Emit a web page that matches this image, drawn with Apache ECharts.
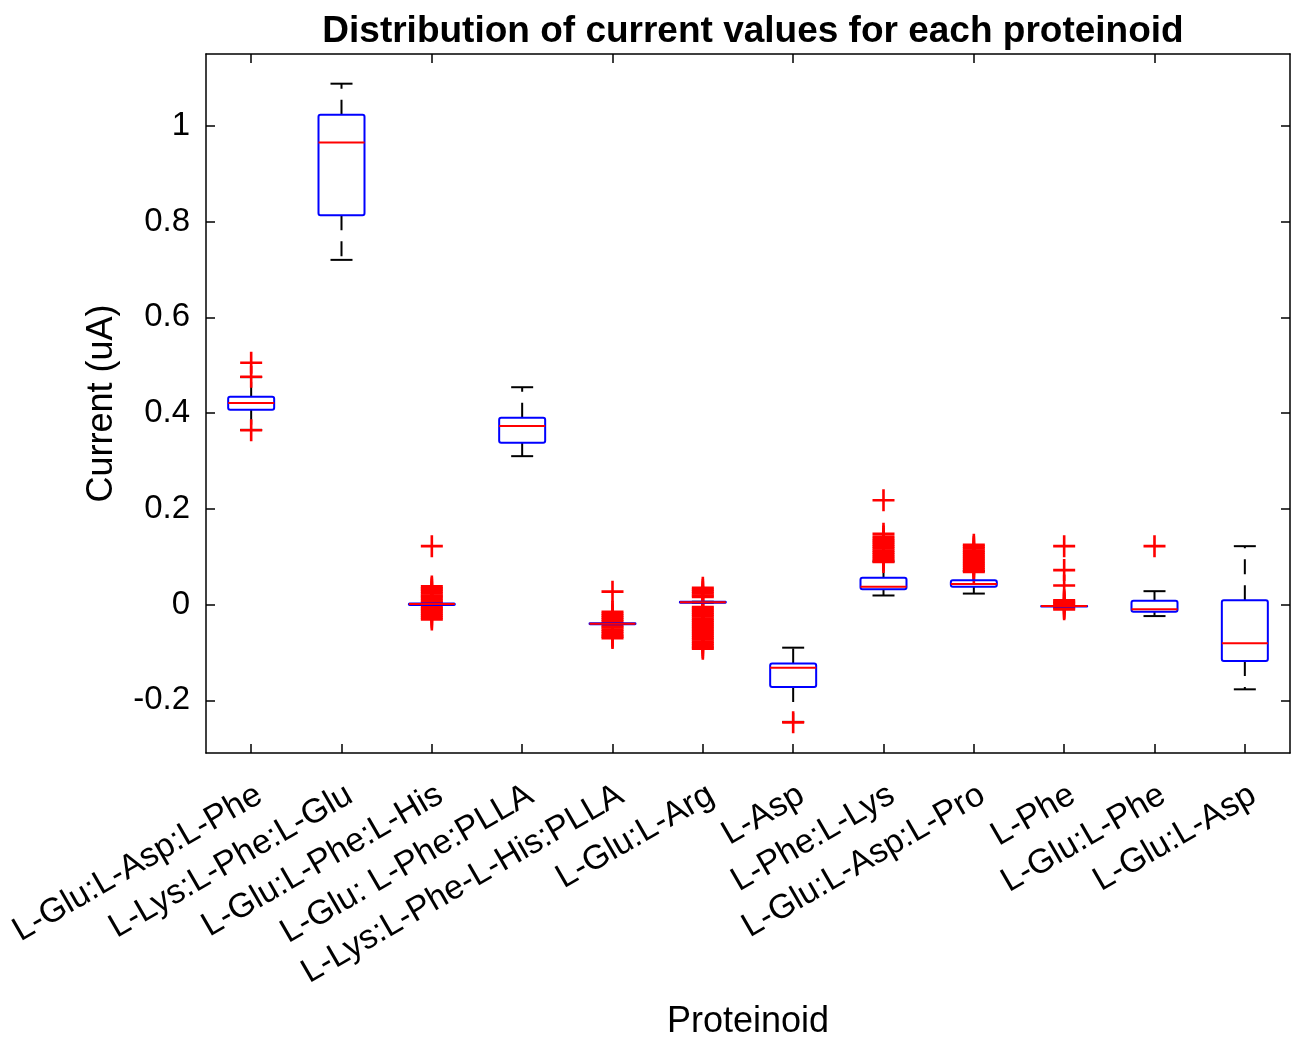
<!DOCTYPE html>
<html>
<head>
<meta charset="utf-8">
<script src="https://cdn.jsdelivr.net/npm/echarts@6/dist/echarts.min.js"></script>
<style>
html,body{margin:0;padding:0;background:#fff;}
#chart{width:1298px;height:1038px;}
</style>
</head>
<body>
<div id="chart"></div>
<script>
const categories = ['L-Glu:L-Asp:L-Phe','L-Lys:L-Phe:L-Glu','L-Glu:L-Phe:L-His','L-Glu: L-Phe:PLLA','L-Lys:L-Phe-L-His:PLLA','L-Glu:L-Arg','L-Asp','L-Phe:L-Lys','L-Glu:L-Asp:L-Pro','L-Phe','L-Glu:L-Phe','L-Glu:L-Asp'];
const whiskerLow  = [0.365, 0.720, -0.001, 0.310, -0.041, 0.004, -0.245, 0.019, 0.023, -0.003, -0.024, -0.177];
const q1          = [0.407, 0.813, -0.001, 0.338, -0.041, 0.004, -0.172, 0.032, 0.037, -0.003, -0.015, -0.118];
const median      = [0.421, 0.965,  0.001, 0.373, -0.040, 0.005, -0.132, 0.037, 0.043, -0.003, -0.010, -0.081];
const q3          = [0.434, 1.023,  0.002, 0.390, -0.039, 0.006, -0.123, 0.056, 0.051, -0.003,  0.008,  0.009];
const whiskerHigh = [0.475, 1.088,  0.002, 0.454, -0.039, 0.006, -0.090, 0.090, 0.070, -0.003,  0.028,  0.122];
const outliers = [
  [0.505, 0.476, 0.364],
  [],
  [0.122, 0.038, 0.034, 0.031, 0.027, 0.023, 0.019, 0.016, 0.012, 0.008, 0.004, -0.004, -0.008, -0.011, -0.015, -0.019, -0.023, -0.027, -0.031],
  [],
  [0.027, -0.015, -0.019, -0.023, -0.027, -0.031, -0.035, -0.045, -0.048, -0.052, -0.056, -0.060, -0.064, -0.067, -0.070],
  [0.035, 0.031, 0.027, 0.023, 0.019, 0.016, -0.005, -0.009, -0.013, -0.017, -0.021, -0.025, -0.029, -0.033, -0.037, -0.041, -0.045, -0.049, -0.053, -0.057, -0.061, -0.065, -0.069, -0.073, -0.077, -0.081, -0.085, -0.089, -0.092],
  [-0.246],
  [0.218, 0.148, 0.142, 0.137, 0.133, 0.129, 0.125, 0.121, 0.117, 0.113, 0.109, 0.105, 0.101, 0.097, 0.093, 0.089],
  [0.125, 0.121, 0.117, 0.113, 0.109, 0.105, 0.101, 0.097, 0.093, 0.089, 0.085, 0.081, 0.077, 0.073, 0.068],
  [0.122, 0.072, 0.040, 0.009, 0.006, 0.003, 0.000, -0.004, -0.007, -0.010],
  [0.122],
  []
];
const yTicks = [-0.2, 0, 0.2, 0.4, 0.6, 0.8, 1];

const boxData = categories.map((c, i) => [i, whiskerLow[i], q1[i], median[i], q3[i], whiskerHigh[i]]);
const outlierData = [];
outliers.forEach((list, i) => list.forEach(v => outlierData.push([i, v])));

const FONT = 'Liberation Sans, Arial, Helvetica, sans-serif';
const chart = echarts.init(document.getElementById('chart'), null, {renderer: 'canvas'});

function coords(api) {
  const idx = api.value(0);
  return {
    x: api.coord([idx, api.value(1)])[0],
    wl: api.coord([idx, api.value(1)])[1],
    b1: api.coord([idx, api.value(2)])[1],
    md: api.coord([idx, api.value(3)])[1],
    b3: api.coord([idx, api.value(4)])[1],
    wh: api.coord([idx, api.value(5)])[1]
  };
}

function renderWhiskers(params, api) {
  const c = coords(api);
  const cw = 22;
  const dashStyle = {stroke: '#000', lineWidth: 2, lineDash: [15, 11], fill: null};
  const solid = {stroke: '#000', lineWidth: 2, fill: null};
  return {
    type: 'group',
    children: [
      {type: 'line', shape: {x1: c.x, y1: c.b3, x2: c.x, y2: c.wh}, style: dashStyle},
      {type: 'line', shape: {x1: c.x, y1: c.b1, x2: c.x, y2: c.wl}, style: dashStyle},
      {type: 'line', shape: {x1: c.x - cw / 2, y1: c.wh, x2: c.x + cw / 2, y2: c.wh}, style: solid},
      {type: 'line', shape: {x1: c.x - cw / 2, y1: c.wl, x2: c.x + cw / 2, y2: c.wl}, style: solid}
    ]
  };
}

function renderBox(params, api) {
  const c = coords(api);
  const bw = 46;
  return {
    type: 'group',
    children: [
      {type: 'rect', shape: {x: c.x - bw / 2, y: c.b3, width: bw, height: Math.max(c.b1 - c.b3, 0.5), r: 2},
        style: {stroke: '#0000ff', lineWidth: 2, fill: null}},
      {type: 'line', shape: {x1: c.x - bw / 2, y1: c.md, x2: c.x + bw / 2, y2: c.md}, style: {stroke: '#ff0000', lineWidth: 2}}
    ]
  };
}

const tickStyle = {color: '#000', width: 1.5};
const option = {
  backgroundColor: '#ffffff',
  animation: false,
  title: {
    text: 'Distribution of current values for each proteinoid',
    left: 748, top: 8, textAlign: 'center',
    textStyle: {fontFamily: FONT, fontWeight: 'bold', fontSize: 37, color: '#000'}
  },
  grid: {left: 206, right: 8, top: 54, bottom: 285, containLabel: false, outerBoundsMode: 'none'},
  xAxis: [
    {
      type: 'category', data: categories, position: 'bottom', boundaryGap: true,
      name: 'Proteinoid', nameLocation: 'middle', nameGap: 251,
      nameTextStyle: {fontFamily: FONT, fontSize: 36, color: '#000'},
      axisLine: {show: true, onZero: false, lineStyle: tickStyle},
      axisTick: {show: true, inside: true, length: 9, alignWithLabel: true, lineStyle: tickStyle},
      axisLabel: {show: true, interval: 0, rotate: 30, align: 'right', verticalAlign: 'top', margin: 25,
        fontFamily: FONT, fontSize: 34, color: '#000'},
      splitLine: {show: false}
    },
    {
      type: 'category', data: categories, position: 'top', boundaryGap: true,
      axisLine: {show: true, onZero: false, lineStyle: tickStyle},
      axisTick: {show: true, inside: true, length: 9, alignWithLabel: true, lineStyle: tickStyle},
      axisLabel: {show: false}, splitLine: {show: false}
    }
  ],
  yAxis: [
    {
      type: 'value', min: -0.31, max: 1.15, position: 'left',
      name: 'Current (uA)', nameLocation: 'middle', nameGap: 86, nameRotate: 90,
      nameTextStyle: {fontFamily: FONT, fontSize: 36, color: '#000'},
      axisLine: {show: true, onZero: false, lineStyle: tickStyle},
      axisTick: {show: true, inside: true, length: 9, customValues: yTicks, lineStyle: tickStyle},
      axisLabel: {show: true, customValues: yTicks, margin: 16, fontFamily: FONT, fontSize: 33, color: '#000'},
      splitLine: {show: false}
    },
    {
      type: 'value', min: -0.31, max: 1.15, position: 'right',
      axisLine: {show: true, onZero: false, lineStyle: tickStyle},
      axisTick: {show: true, inside: true, length: 9, customValues: yTicks, lineStyle: tickStyle},
      axisLabel: {show: false}, splitLine: {show: false}
    }
  ],
  series: [
    {
      type: 'custom', xAxisIndex: 0, yAxisIndex: 0, data: boxData, z: 1,
      renderItem: renderWhiskers, silent: true
    },
    {
      type: 'scatter', xAxisIndex: 0, yAxisIndex: 0, data: outlierData, z: 2,
      symbol: 'path://M9.7,0H12.3V9.7H22V12.3H12.3V22H9.7V12.3H0V9.7H9.7Z', symbolSize: 22,
      itemStyle: {color: '#ff0000', opacity: 1}, silent: true
    },
    {
      type: 'custom', xAxisIndex: 0, yAxisIndex: 0, data: boxData, z: 3,
      renderItem: renderBox, silent: true
    }
  ]
};
chart.setOption(option);
</script>
</body>
</html>
